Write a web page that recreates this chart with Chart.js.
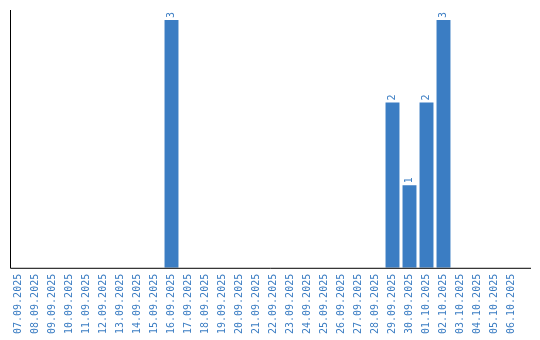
<!DOCTYPE html>
<html>
<head>
<meta charset="utf-8">
<script src="https://cdn.jsdelivr.net/npm/chart.js@4"></script>
<style>
  html, body { margin: 0; padding: 0; background: #fff; }
  #wrap { width: 540px; height: 340px; }
</style>
</head>
<body>
<div id="wrap"><canvas id="chart" width="540" height="340"></canvas></div>
<script>
const dates = [
  "07.09.2025", "08.09.2025", "09.09.2025", "10.09.2025", "11.09.2025",
  "12.09.2025", "13.09.2025", "14.09.2025", "15.09.2025", "16.09.2025",
  "17.09.2025", "18.09.2025", "19.09.2025", "20.09.2025", "21.09.2025",
  "22.09.2025", "23.09.2025", "24.09.2025", "25.09.2025", "26.09.2025",
  "27.09.2025", "28.09.2025", "29.09.2025", "30.09.2025", "01.10.2025",
  "02.10.2025", "03.10.2025", "04.10.2025", "05.10.2025", "06.10.2025"
];
const counts = [
  0, 0, 0, 0, 0, 0, 0, 0, 0, 3,
  0, 0, 0, 0, 0, 0, 0, 0, 0, 0,
  0, 0, 2, 1, 2, 3, 0, 0, 0, 0
];

const blue = "#3b7dc3";
const monoFont = "'DejaVu Sans Mono'";

// value labels above bars, rotated like the tick labels
const barLabels = {
  id: "barLabels",
  afterDatasetsDraw(chart) {
    const ctx = chart.ctx;
    const meta = chart.getDatasetMeta(0);
    ctx.save();
    ctx.fillStyle = blue;
    ctx.font = "10px " + monoFont;
    ctx.textAlign = "left";
    ctx.textBaseline = "middle";
    meta.data.forEach((bar, i) => {
      const v = counts[i];
      if (!v) return;
      ctx.save();
      ctx.translate(bar.x, bar.y - 2);
      ctx.rotate(-Math.PI / 2);
      ctx.fillText(String(v), 0, 0);
      ctx.restore();
    });
    ctx.restore();
  }
};

// axis lines: the bottom one runs a little past the last category
const axisLines = {
  id: "axisLines",
  afterDraw(chart) {
    const { ctx, chartArea } = chart;
    ctx.save();
    ctx.strokeStyle = "#000";
    ctx.lineWidth = 1;
    ctx.beginPath();
    ctx.moveTo(chartArea.left + 0.5, chartArea.top);
    ctx.lineTo(chartArea.left + 0.5, chartArea.bottom + 0.5);
    ctx.lineTo(chartArea.right + 11, chartArea.bottom + 0.5);
    ctx.stroke();
    ctx.restore();
  }
};

const chart = new Chart(document.getElementById("chart"), {
  type: "bar",
  data: {
    labels: dates,
    datasets: [{
      data: counts,
      backgroundColor: blue,
      borderWidth: 0,
      categoryPercentage: 0.82,
      barPercentage: 1
    }]
  },
  options: {
    responsive: false,
    animation: false,
    layout: { padding: { left: 10, right: 20, top: 10, bottom: 0 } },
    plugins: {
      legend: { display: false },
      tooltip: { enabled: false }
    },
    scales: {
      x: {
        grid: { display: false, drawTicks: false },
        border: { display: false },
        ticks: {
          color: blue,
          font: { family: "DejaVu Sans Mono", size: 10 },
          maxRotation: 90,
          minRotation: 90,
          autoSkip: false,
          padding: 6
        }
      },
      y: {
        min: 0,
        max: 3.12,
        grid: { display: false, drawTicks: false },
        border: { display: false },
        ticks: { display: false }
      }
    }
  },
  plugins: [barLabels, axisLines]
});
</script>
</body>
</html>
